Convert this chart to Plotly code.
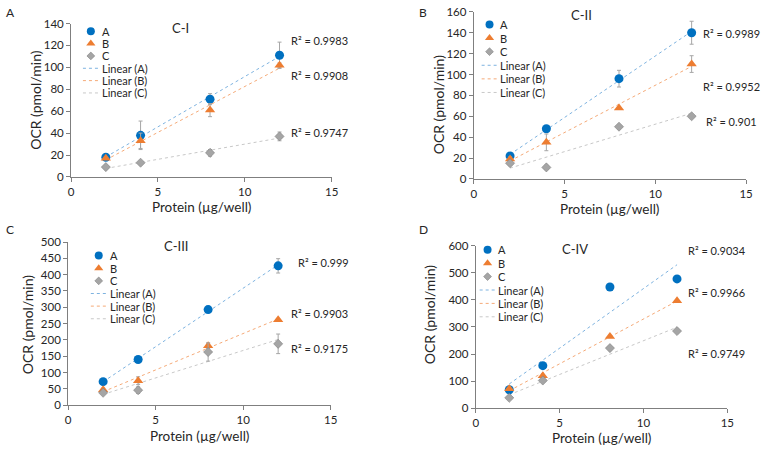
import numpy as np
import plotly.graph_objects as go

# ── data ─────────────────────────────────────────────────────
protein = [2, 4, 8, 12]

ci_a = [18, 38, 71, 111]
ci_b = [17, 33, 61, 102]
ci_c = [9, 13, 22, 37]
ci_a_err = [1, 13, 5, 12]
ci_b_err = [1, 7, 6, 2]
ci_c_err = [1, 1, 3, 4]

cii_a = [22, 48, 96, 140]
cii_b = [19, 35, 68, 110]
cii_c = [15, 11, 50, 60]
cii_a_err = [2, 1, 8, 11]
cii_b_err = [2, 8, 1, 8]
cii_c_err = [2, 2, 2, 1]

ciii_a = [72, 140, 293, 427]
ciii_b = [47, 75, 182, 262]
ciii_c = [38, 46, 163, 188]
ciii_a_err = [5, 4, 5, 22]
ciii_b_err = [5, 12, 8, 3]
ciii_c_err = [5, 10, 28, 30]

civ_a = [68, 157, 448, 478]
civ_b = [72, 120, 265, 397]
civ_c = [38, 102, 222, 285]
civ_a_err = [0, 0, 0, 0]
civ_b_err = [0, 0, 0, 0]
civ_c_err = [0, 0, 0, 0]

r2_ci = ["0.9983", "0.9908", "0.9747"]
r2_cii = ["0.9989", "0.9952", "0.901"]
r2_ciii = ["0.999", "0.9903", "0.9175"]
r2_civ = ["0.9034", "0.9966", "0.9749"]

series_names = ["A", "B", "C"]

# ── style ────────────────────────────────────────────────────
W, H = 762, 451
FONT = "Lato"
TXT = "#262626"
AXIS = "#7F7F7F"
MARK = [
    dict(symbol="circle", size=9, color="#0070C0", line=dict(width=0)),
    dict(symbol="triangle-up", size=9, color="#ED7D31", line=dict(width=0)),
    dict(symbol="diamond", size=7, color="#A5A5A5", line=dict(width=0.6, color="#7F7F7F")),
]
TREND = ["#7EB3E0", "#F5AA78", "#C8C8C8"]


def px_x(p):
    return p / W


def px_y(p):
    return 1 - p / H


# per panel: text positions and plot box are in page pixels
panels = [
    dict(letter="A", letter_xy=(1, 6), title="C-I", title_xy=(180, 22),
         ys=[ci_a, ci_b, ci_c], errs=[ci_a_err, ci_b_err, ci_c_err], r2=r2_ci,
         box=(69, 333, 17, 175), ymax=140, dtick=20,
         leg=(89, 25, 12.7), r2_xy=[(290, 34), (290, 71), (290, 129)],
         ytitle_xy=(33, 96), xtitle_y=206),
    dict(letter="B", letter_xy=(419, 6), title="C-II", title_xy=(586, 8),
         ys=[cii_a, cii_b, cii_c], errs=[cii_a_err, cii_b_err, cii_c_err], r2=r2_cii,
         box=(477, 753, 5, 177), ymax=160, dtick=20,
         leg=(493, 18, 14), r2_xy=[(707, 27), (707, 82), (710, 118)],
         ytitle_xy=(441, 100), xtitle_y=208),
    dict(letter="C", letter_xy=(1, 229), title="C-III", title_xy=(175, 246),
         ys=[ciii_a, ciii_b, ciii_c], errs=[ciii_a_err, ciii_b_err, ciii_c_err], r2=r2_ciii,
         box=(66, 332, 242, 410), ymax=500, dtick=50,
         leg=(97, 256, 13), r2_xy=[(297, 263), (290, 316), (290, 352)],
         ytitle_xy=(25, 327), xtitle_y=442),
    dict(letter="D", letter_xy=(419, 229), title="C-IV", title_xy=(580, 249),
         ys=[civ_a, civ_b, civ_c], errs=[civ_a_err, civ_b_err, civ_c_err], r2=r2_civ,
         box=(479, 734, 246, 413), ymax=600, dtick=100,
         leg=(491, 250, 13.8), r2_xy=[(692, 251), (692, 294), (692, 357)],
         ytitle_xy=(433, 316), xtitle_y=444),
]

fig = go.Figure()
annotations = []
layout_axes = {}


def ann(text, xy, size, xanchor="left", angle=0):
    annotations.append(dict(
        text=text, x=px_x(xy[0]), y=px_y(xy[1]), xref="paper", yref="paper",
        xanchor=xanchor, yanchor="middle", showarrow=False, textangle=angle,
        font=dict(family=FONT, size=size, color=TXT),
    ))


for i, p in enumerate(panels):
    n = "" if i == 0 else str(i + 1)
    xa, ya = f"x{n}", f"y{n}"
    x0, x1, y0, y1 = p["box"]

    # ── linear trendlines (least squares over the points) ───
    xs = np.array(protein, dtype=float)
    for k in range(3):
        slope, icpt = np.polyfit(xs, np.array(p["ys"][k], dtype=float), 1)
        fig.add_trace(go.Scatter(
            x=[xs.min(), xs.max()], y=[slope * xs.min() + icpt, slope * xs.max() + icpt],
            mode="lines", line=dict(color=TREND[k], width=1, dash="dot"),
            xaxis=xa, yaxis=ya, showlegend=False, hoverinfo="skip",
        ))
    # ── points + error bars ─────────────────────────────────
    for k in range(3):
        fig.add_trace(go.Scatter(
            x=protein, y=p["ys"][k], mode="markers", name=series_names[k],
            marker=MARK[k],
            error_y=dict(type="data", array=p["errs"][k], color="#A6A6A6",
                         thickness=1, width=2),
            xaxis=xa, yaxis=ya, showlegend=False,
        ))

    common = dict(
        showgrid=False, zeroline=False, showline=True, linecolor=AXIS, linewidth=1,
        ticks="outside", ticklen=4, tickcolor=AXIS,
        tickfont=dict(family=FONT, size=11.5, color=TXT),
    )
    layout_axes[f"xaxis{n}"] = dict(
        domain=[px_x(x0), px_x(x1)], anchor=ya, range=[0, 15], dtick=5, **common)
    layout_axes[f"yaxis{n}"] = dict(
        domain=[px_y(y1), px_y(y0)], anchor=xa, range=[0, p["ymax"]], dtick=p["dtick"], **common)

    # ── text: letter, title, axis titles, R² ────────────────
    ann(p["letter"], p["letter_xy"], 12)
    ann(p["title"], p["title_xy"], 13, "center")
    ann("Protein (µg/well)", ((x0 + x1) / 2, p["xtitle_y"]), 13.5, "center")
    ann("OCR (pmol/min)", p["ytitle_xy"], 14, "center", -90)
    for k in range(3):
        ann(f"R² = {p['r2'][k]}", p["r2_xy"][k], 11)

    # ── legend drawn on a pixel overlay axis ────────────────
    lx, ly, dy = p["leg"]
    for k in range(3):
        fig.add_trace(go.Scatter(
            x=[lx], y=[ly + k * dy], mode="markers",
            marker=dict(MARK[k], size=MARK[k]["size"] - 1),
            xaxis="x5", yaxis="y5", showlegend=False, hoverinfo="skip",
        ))
        annotations.append(dict(
            text=series_names[k], x=lx + 9, y=ly + k * dy, xref="x5", yref="y5",
            xanchor="left", yanchor="middle", showarrow=False,
            font=dict(family=FONT, size=11, color=TXT),
        ))
    for k in range(3):
        yy = ly + (k + 3) * dy
        fig.add_trace(go.Scatter(
            x=[lx - 8, lx + 8], y=[yy, yy], mode="lines",
            line=dict(color=TREND[k], width=1, dash="dot"),
            xaxis="x5", yaxis="y5", showlegend=False, hoverinfo="skip",
        ))
        annotations.append(dict(
            text=f"Linear ({series_names[k]})", x=lx + 9, y=yy, xref="x5", yref="y5",
            xanchor="left", yanchor="middle", showarrow=False,
            font=dict(family=FONT, size=11, color=TXT),
        ))

layout_axes["xaxis5"] = dict(domain=[0, 1], range=[0, W], visible=False, anchor="y5")
layout_axes["yaxis5"] = dict(domain=[0, 1], range=[H, 0], visible=False, anchor="x5")

fig.update_layout(
    width=W, height=H,
    margin=dict(l=0, r=0, t=0, b=0),
    paper_bgcolor="white", plot_bgcolor="rgba(0,0,0,0)",
    font=dict(family=FONT, color=TXT),
    annotations=annotations,
    showlegend=False,
    **layout_axes,
)

fig.write_html(
    "out.html",
    config={"displayModeBar": False},
    post_script="document.body.style.margin='0';document.body.style.overflow='hidden';",
)
